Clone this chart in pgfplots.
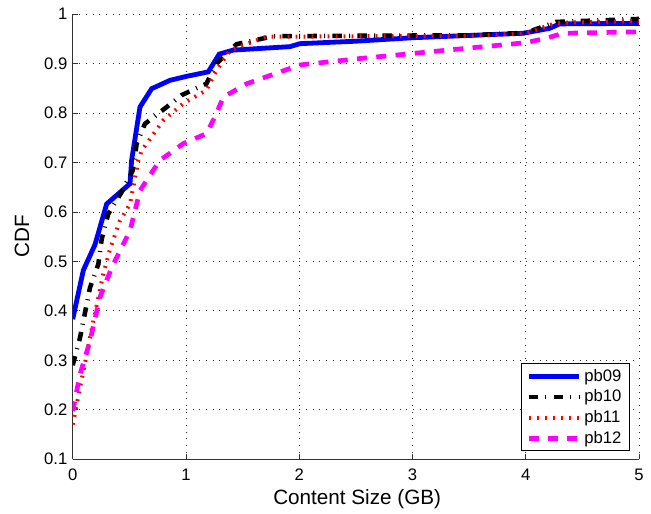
\documentclass[border=0pt]{standalone}
\usepackage{fontspec}
\setmainfont{Liberation Sans}
\usepackage{pgfplots}
\pgfplotsset{compat=1.18}
\definecolor{matmag}{RGB}{255,0,255}
\definecolor{matred}{RGB}{255,0,0}
\begin{document}
\begin{tikzpicture}
\begin{axis}[
  width=424.5pt, height=333.75pt, scale only axis,
  xmin=0, xmax=5, ymin=0.1, ymax=1,
  xtick={0,1,2,3,4,5},
  ytick={0.1,0.2,0.3,0.4,0.5,0.6,0.7,0.8,0.9,1},
  yticklabels={0.1,0.2,0.3,0.4,0.5,0.6,0.7,0.8,0.9,1},
  axis x line*=bottom, axis y line*=left,
  axis line style={black!80, line width=0.5pt},
  tick align=inside, major tick length=4pt,
  tick style={black!80, line width=0.5pt},
  grid=major,
  grid style={black!85, line width=0.5pt, dash pattern=on 0.75pt off 4.25pt},
  /pgf/number format/assume math mode=true,
  tick label style={font=\fontsize{12.5}{15}\selectfont},
  yticklabel style={xshift=-0.5pt},
  xticklabel style={yshift=-4pt},
  label style={font=\fontsize{15.5}{18}\selectfont},
  xlabel={Content Size (GB)}, ylabel={CDF},
  xlabel style={at={(rel axis cs:0.5,0)}, anchor=center, yshift=-30pt, xshift=1pt},
  ylabel style={at={(rel axis cs:0,0.5)}, anchor=center, yshift=38pt},
  legend style={at={(0.984,0.018)}, anchor=south east, draw=black,
    line width=0.6pt, font=\fontsize{12.5}{15}\selectfont,
    cells={anchor=west}, row sep=1pt, inner xsep=4pt, inner ysep=2pt},
  legend image code/.code={\draw[#1] (0pt,0pt) -- (38pt,0pt);},
]
\addplot[blue, line width=3.6pt] coordinates {
  (0,0.383) (0.094,0.482) (0.197,0.534) (0.3,0.616) (0.506,0.657)
  (0.52,0.704) (0.594,0.812) (0.697,0.849) (0.86,0.866) (1.006,0.874)
  (1.197,0.883) (1.294,0.919) (1.417,0.927) (1.918,0.934) (2.006,0.94)
  (2.5,0.945) (3.0,0.952) (3.977,0.961) (4.21,0.971) (4.3,0.98) (5,0.981)
};
\addlegendentry{pb09}
\addplot[black, line width=3.4pt,
  dash pattern=on 7pt off 5.5pt on 0.75pt off 5.5pt] coordinates {
  (0,0.29) (0.064,0.345) (0.153,0.447) (0.226,0.494) (0.256,0.545)
  (0.314,0.596) (0.432,0.64) (0.53,0.684) (0.565,0.738) (0.638,0.778)
  (0.83,0.812) (0.962,0.836) (1.18,0.859) (1.27,0.9) (1.447,0.939)
  (1.77,0.955) (2.5,0.956) (3.5,0.957) (4.0,0.962) (4.27,0.984) (5,0.99)
};
\addlegendentry{pb10}
\addplot[draw=matred, line width=3pt, dash pattern=on 1.4pt off 4.6pt] coordinates {
  (0,0.17) (0.094,0.278) (0.182,0.379) (0.27,0.474) (0.33,0.525)
  (0.417,0.582) (0.506,0.616) (0.535,0.65) (0.579,0.704) (0.609,0.724)
  (0.8,0.785) (0.976,0.819) (1.18,0.846) (1.27,0.886) (1.39,0.927)
  (1.71,0.954) (2.5,0.955) (3.5,0.956) (4.0,0.961) (4.27,0.982) (5,0.986)
};
\addlegendentry{pb11}
\addplot[matmag, line width=3.5pt, dash pattern=on 7.5pt off 7pt] coordinates {
  (0,0.197) (0.064,0.271) (0.153,0.339) (0.24,0.427) (0.344,0.487)
  (0.417,0.521) (0.506,0.562) (0.55,0.602) (0.594,0.643) (0.711,0.684)
  (0.77,0.704) (0.976,0.738) (1.18,0.758) (1.256,0.792) (1.33,0.832)
  (1.536,0.859) (2.006,0.897) (2.536,0.91) (3.447,0.93) (4.0,0.942)
  (4.18,0.951) (4.33,0.961) (5,0.964)
};
\addlegendentry{pb12}
\coordinate (bl) at (rel axis cs:0,0);
\coordinate (tr) at (rel axis cs:1,1);
\end{axis}
\path (bl) ++(-54.5pt,-36pt);
\path (tr) ++(9pt,10.5pt);
\end{tikzpicture}
\end{document}
